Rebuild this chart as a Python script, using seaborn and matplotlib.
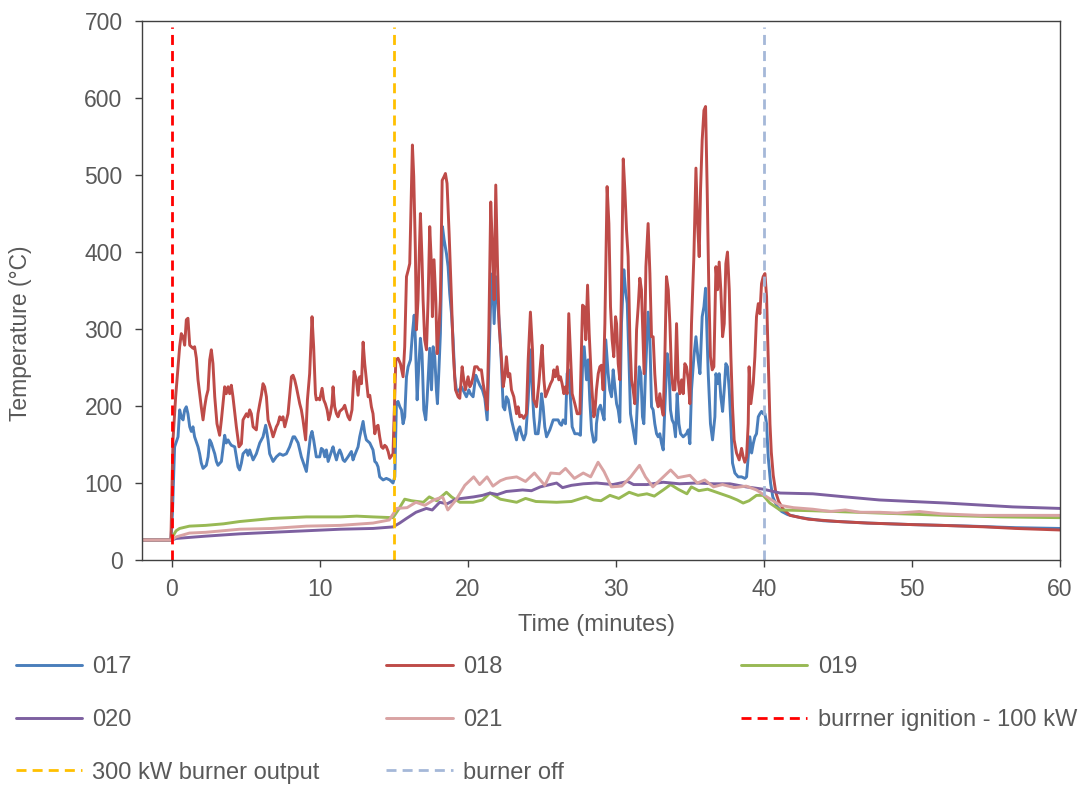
import numpy as np
import pandas as pd
import matplotlib
matplotlib.use('Agg')
import matplotlib.pyplot as plt
import seaborn as sns

# ── Data ────────────────────────────────────────────────────
t_017 = [-2, -0.05, 0.05, 0.2, 0.43, 0.54, 0.65, 0.77, 0.88, 0.99, 1.1, 1.22, 1.33, 1.44, 1.55, 1.78, 1.89,
         2.0, 2.12, 2.23, 2.34, 2.46, 2.57, 2.68, 2.79, 2.91, 3.02, 3.13, 3.36, 3.58, 3.69, 3.81, 3.92, 4.03,
         4.26, 4.37, 4.48, 4.59, 4.71, 4.82, 5.05, 5.16, 5.27, 5.5, 5.72, 5.95, 6.17, 6.35, 6.51, 6.62, 6.85,
         7.07, 7.3, 7.52, 7.75, 7.97, 8.2, 8.31, 8.54, 8.76, 8.99, 9.1, 9.21, 9.37, 9.48, 9.59, 9.77, 10.0,
         10.11, 10.23, 10.34, 10.45, 10.57, 10.79, 10.9, 11.01, 11.13, 11.24, 11.35, 11.46, 11.58, 11.69,
         11.91, 12.14, 12.25, 12.36, 12.59, 12.7, 12.93, 13.04, 13.15, 13.38, 13.6, 13.72, 13.83, 13.94,
         14.05, 14.28, 14.5, 14.73, 14.95, 15.07, 15.18, 15.29, 15.41, 15.52, 15.63, 15.74, 15.86, 15.97,
         16.13, 16.26, 16.38, 16.46, 16.58, 16.69, 16.8, 16.91, 17.03, 17.16, 17.25, 17.43, 17.55, 17.66,
         17.77, 17.88, 17.95, 18.06, 18.15, 18.29, 18.4, 18.56, 18.67, 18.78, 18.9, 19.01, 19.12, 19.23,
         19.35, 19.57, 19.8, 19.91, 20.07, 20.18, 20.36, 20.54, 20.66, 20.81, 20.99, 21.15, 21.31, 21.42,
         21.55, 21.67, 21.78, 21.89, 22.01, 22.16, 22.28, 22.39, 22.5, 22.61, 22.73, 22.84, 22.95, 23.11,
         23.29, 23.4, 23.51, 23.63, 23.78, 23.92, 24.08, 24.23, 24.37, 24.46, 24.57, 24.75, 24.86, 24.98,
         25.09, 25.2, 25.32, 25.54, 25.77, 25.92, 26.1, 26.22, 26.33, 26.44, 26.6, 26.71, 26.82, 26.94,
         27.05, 27.23, 27.45, 27.61, 27.75, 27.86, 28.02, 28.13, 28.24, 28.36, 28.51, 28.65, 28.69, 28.81,
         28.96, 29.1, 29.21, 29.32, 29.48, 29.59, 29.71, 29.82, 29.93, 30.05, 30.16, 30.27, 30.38, 30.54,
         30.65, 30.77, 30.88, 30.99, 31.17, 31.33, 31.44, 31.58, 31.69, 31.8, 31.89, 32.0, 32.18, 32.3,
         32.41, 32.52, 32.63, 32.75, 32.86, 32.97, 33.09, 33.2, 33.31, 33.47, 33.58, 33.69, 33.8, 33.92,
         34.03, 34.14, 34.26, 34.37, 34.55, 34.77, 34.89, 35.0, 35.11, 35.27, 35.41, 35.56, 35.68, 35.83,
         35.95, 36.06, 36.12, 36.24, 36.39, 36.53, 36.69, 36.76, 36.87, 36.98, 37.09, 37.21, 37.32, 37.43,
         37.54, 37.66, 37.77, 37.88, 38.04, 38.26, 38.49, 38.72, 38.83, 38.94, 39.05, 39.17, 39.28, 39.39,
         39.5, 39.62, 39.73, 39.84, 39.95, 40.07, 40.18, 40.29, 40.45, 40.6, 40.9, 41.2, 41.6, 42.5, 44,
         47, 50, 54, 57, 60]
v_017 = [26, 26, 60, 147, 160, 195, 186, 182, 195, 199, 190, 173, 167, 173, 160, 147, 138,
         126, 119, 121, 123, 134, 156, 152, 145, 138, 128, 123, 128, 162, 152, 156, 152, 149,
         147, 134, 121, 117, 126, 138, 143, 136, 143, 130, 138, 152, 160, 175, 156, 138, 128,
         134, 138, 136, 138, 147, 160, 160, 152, 134, 121, 115, 134, 160, 167, 156, 134, 134,
         145, 143, 134, 143, 128, 141, 147, 138, 130, 138, 143, 138, 130, 128,
         134, 141, 130, 136, 147, 160, 180, 165, 156, 152, 143, 128, 126, 121,
         108, 104, 106, 104, 100, 108, 204, 206, 199, 195, 177, 186, 238, 251,
         260, 294, 318, 286, 208, 251, 288, 268, 195, 182, 208, 275, 221, 277,
         264, 221, 203, 251, 294, 433, 416, 398, 381, 346, 320, 286, 238, 221,
         219, 225, 216, 212, 221, 216, 212, 240, 234, 227, 221, 210, 182, 251,
         338, 372, 307, 368, 338, 299, 251, 199, 195, 212, 208, 195, 182, 169,
         156, 169, 173, 164, 156, 164, 208, 273, 216, 186, 164, 164, 182, 216,
         199, 173, 160, 169, 182, 182, 182, 177, 175, 182, 177, 242, 247, 208,
         173, 164, 164, 162, 251, 277, 234, 260, 208, 169, 153, 156, 177, 195,
         201, 190, 182, 286, 242, 221, 212, 247, 225, 203, 195, 179, 307, 377,
         351, 333, 264, 190, 169, 151, 199, 251, 242, 186, 177, 242, 322, 286,
         199, 195, 177, 164, 160, 164, 151, 143, 199, 268, 251, 195, 182, 177,
         160, 216, 177, 164, 160, 164, 169, 151, 221, 264, 290, 260, 242, 316,
         329, 353, 316, 242, 177, 156, 186, 242, 229, 242, 212, 193, 221, 255,
         251, 221, 177, 126, 113, 108, 108, 106, 108, 134, 160, 139, 151, 160,
         164, 186, 190, 193, 190, 190, 177, 134, 100, 82, 69, 63, 59, 55, 51,
         48, 46, 44, 42, 41]

t_018 = [-2, -0.05, 0.09, 0.27, 0.54, 0.65, 0.77, 0.88, 0.99, 1.1, 1.22, 1.44, 1.55, 1.67, 1.78, 2.0,
         2.12, 2.23, 2.34, 2.46, 2.57, 2.68, 2.79, 2.91, 3.06, 3.24, 3.36, 3.58, 3.69, 3.81, 3.92, 4.03,
         4.14, 4.37, 4.55, 4.71, 4.82, 5.05, 5.16, 5.27, 5.38, 5.5, 5.72, 5.83, 5.95, 6.06, 6.17, 6.28,
         6.4, 6.51, 6.73, 6.85, 7.07, 7.18, 7.3, 7.41, 7.52, 7.64, 7.86, 8.09, 8.2, 8.31, 8.42, 8.65, 8.76,
         8.87, 9.05, 9.17, 9.32, 9.48, 9.59, 9.71, 9.77, 9.89, 10.0, 10.16, 10.27, 10.38, 10.5, 10.61,
         10.72, 10.83, 10.9, 11.01, 11.13, 11.24, 11.35, 11.46, 11.58, 11.69, 11.8, 11.91, 12.03, 12.18,
         12.32, 12.48, 12.59, 12.7, 12.82, 12.93, 13.04, 13.15, 13.27, 13.38, 13.49, 13.6, 13.72, 13.83,
         13.94, 14.05, 14.17, 14.28, 14.39, 14.5, 14.62, 14.73, 14.95, 15.14, 15.29, 15.45, 15.63, 15.74,
         15.86, 15.97, 16.08, 16.26, 16.35, 16.46, 16.53, 16.64, 16.8, 16.91, 16.98, 17.09, 17.21, 17.32,
         17.43, 17.55, 17.61, 17.72, 17.84, 17.93, 18.06, 18.15, 18.27, 18.4, 18.49, 18.6, 18.74, 18.9,
         19.01, 19.17, 19.35, 19.46, 19.62, 19.73, 19.84, 20.02, 20.14, 20.25, 20.36, 20.47, 20.63, 20.77,
         20.92, 21.04, 21.19, 21.31, 21.42, 21.55, 21.67, 21.78, 21.89, 22.01, 22.12, 22.28, 22.39, 22.5,
         22.61, 22.73, 22.84, 22.95, 23.11, 23.29, 23.4, 23.51, 23.63, 23.78, 23.96, 24.08, 24.23, 24.37,
         24.46, 24.64, 24.8, 24.91, 25.02, 25.14, 25.25, 25.43, 25.59, 25.72, 25.81, 25.92, 26.04, 26.15,
         26.26, 26.37, 26.49, 26.6, 26.71, 26.82, 26.94, 27.05, 27.23, 27.39, 27.57, 27.75, 27.86, 27.97,
         28.09, 28.2, 28.36, 28.51, 28.58, 28.69, 28.81, 28.92, 29.03, 29.14, 29.26, 29.41, 29.53, 29.64,
         29.75, 29.86, 29.98, 30.05, 30.16, 30.27, 30.38, 30.5, 30.61, 30.72, 30.83, 30.95, 31.06, 31.17,
         31.28, 31.4, 31.51, 31.62, 31.73, 31.8, 31.91, 32.03, 32.18, 32.3, 32.41, 32.52, 32.63, 32.75,
         32.86, 32.97, 33.09, 33.2, 33.31, 33.42, 33.54, 33.65, 33.76, 33.87, 33.99, 34.1, 34.21, 34.32,
         34.44, 34.55, 34.66, 34.77, 34.89, 35.0, 35.11, 35.27, 35.41, 35.52, 35.63, 35.72, 35.83, 35.95,
         36.06, 36.17, 36.28, 36.39, 36.51, 36.62, 36.76, 36.87, 36.98, 37.09, 37.21, 37.32, 37.43, 37.54,
         37.66, 37.77, 37.88, 37.99, 38.15, 38.33, 38.49, 38.6, 38.71, 38.83, 38.94, 39.0, 39.12, 39.28,
         39.39, 39.5, 39.62, 39.73, 39.84, 39.95, 40.07, 40.18, 40.29, 40.41, 40.5, 40.63, 40.8, 41.0,
         41.3, 41.76, 42, 43, 45, 47, 50, 52, 55, 57, 60]
v_018 = [26, 26, 156, 212, 277, 294, 290, 279, 312, 314, 279, 275, 277, 262, 234, 199,
         182, 199, 212, 221, 260, 273, 255, 212, 177, 162, 182, 225, 216, 225, 216, 227,
         212, 173, 147, 151, 182, 190, 186, 195, 190, 173, 169, 190, 203, 214, 229, 225,
         212, 182, 169, 160, 173, 177, 186, 182, 186, 173, 190, 238, 240, 234, 225, 203, 195,
         182, 156, 208, 242, 316, 277, 216, 208, 210, 208, 223, 208, 203, 195, 182,
         190, 203, 225, 199, 190, 186, 193, 195, 197, 201, 193, 186, 182, 195,
         245, 234, 214, 238, 229, 283, 255, 234, 212, 214, 199, 190, 164, 173,
         175, 160, 147, 145, 149, 147, 141, 132, 138, 260, 262, 255, 238, 277,
         368, 376, 385, 539, 498, 403, 299, 338, 450, 390, 338, 286, 273, 338,
         433, 381, 316, 390, 338, 268, 303, 338, 493, 498, 502, 489, 424, 338,
         273, 221, 212, 210, 251, 234, 221, 238, 225, 229, 238, 251, 251, 247,
         247, 229, 212, 195, 294, 465, 403, 338, 487, 381, 303, 260, 225, 238,
         264, 238, 242, 221, 212, 190, 199, 186, 188, 184, 190, 260, 322, 273,
         208, 199, 229, 255, 279, 234, 212, 221, 229, 234, 247, 238, 251, 234,
         238, 229, 216, 225, 216, 320, 264, 216, 203, 190, 190, 331, 329, 286,
         357, 294, 229, 186, 190, 221, 242, 251, 253, 221, 307, 485, 437, 329,
         286, 264, 316, 307, 255, 234, 351, 521, 480, 429, 394, 286, 234, 221,
         203, 299, 329, 366, 351, 307, 242, 381, 437, 372, 290, 290, 242, 208,
         199, 216, 199, 188, 264, 368, 351, 307, 242, 221, 221, 307, 234, 216,
         234, 216, 255, 251, 234, 203, 307, 394, 509, 437, 394, 480, 545, 584,
         589, 480, 351, 264, 247, 251, 381, 351, 387, 351, 290, 307, 385, 400,
         351, 264, 199, 156, 139, 130, 145, 134, 127, 134, 177, 251, 203, 229,
         264, 316, 333, 320, 359, 368, 372, 342, 264, 177, 140, 110, 88, 76,
         66, 58, 57, 53, 50, 48, 46, 45, 43, 41, 39]

t_019 = [-2, -0.05, 0.05, 0.3, 0.54, 1.2, 2.3, 3.5, 4.6, 5.7, 6.8, 8.0, 9.1, 10.2, 11.4, 12.5, 13.6, 14.95,
         15.3, 15.74, 16.2, 17.0, 17.4, 17.9, 18.56, 18.9, 19.46, 20.36, 21.0, 21.5, 22.2, 23.3, 23.9,
         24.6, 26.0, 27.0, 28.0, 28.5, 29.0, 29.6, 30.2, 30.9, 31.5, 32.1, 32.6, 33.2, 33.7, 34.2, 34.8,
         35.1, 35.6, 36.2, 36.8, 37.7, 38.2, 38.6, 39.0, 39.5, 39.95, 40.4, 41.08, 43.3, 47.8, 52.3, 56, 60]
v_019 = [26, 26, 30, 38, 41, 44, 45, 47, 50, 52, 54, 55, 56, 56, 56, 57, 56, 55,
         65, 79, 77, 75, 82, 77, 88, 82, 75, 75, 78, 87, 79, 75, 80,
         76, 75, 76, 82, 78, 77, 84, 80, 88, 84, 86, 83, 91, 98, 92, 86,
         95, 90, 92, 88, 82, 78, 74, 77, 84, 84, 74, 65, 64, 61, 58, 56, 55]

t_020 = [-2, 0, 0.3, 2.3, 4.6, 6.8, 9.1, 11.4, 13.6, 14.95, 15.4, 15.86, 16.5, 17.2, 17.6, 18.1, 18.6,
         19.2, 20.4, 21.0, 21.5, 22.0, 22.6, 23.7, 24.3, 24.9, 26.0, 26.4, 27.0, 27.8, 28.7, 29.8, 30.8,
         31.2, 32.1, 33.2, 34.3, 35.4, 36.6, 37.7, 38.8, 39.95, 41.1, 43.3, 45.5, 47.8, 50, 52.3, 56.8, 60]
v_020 = [26, 26, 28, 31, 34, 36, 38, 40, 41, 43, 48, 54, 62, 67, 65, 75, 73,
         79, 82, 84, 87, 85, 89, 91, 90, 95, 100, 94, 97, 99, 100, 98, 102,
         98, 98, 101, 99, 100, 99, 99, 95, 92, 87, 86, 82, 78, 76, 74, 69, 67]

t_021 = [-2, 0, 0.3, 1.2, 2.3, 4.6, 6.8, 9.1, 11.4, 13.6, 14.7, 15.2, 15.9, 16.5, 17.1, 17.7, 18.3, 18.65,
         19.2, 19.8, 20.4, 20.8, 21.3, 21.7, 22.2, 22.6, 23.3, 23.9, 24.5, 25.2, 25.6, 26.2, 26.6, 27.2,
         27.8, 28.3, 28.8, 29.2, 29.7, 30.4, 31.0, 31.6, 32.0, 32.5, 33.1, 33.7, 34.2, 35.0, 35.5, 36.0,
         36.6, 37.2, 38.0, 38.8, 39.5, 40.2, 41.1, 42.0, 43.3, 44.5, 45.5, 46.5, 47.8, 49, 50.5, 52, 54.6,
         57, 60]
v_021 = [26, 26, 30, 35, 36, 40, 41, 44, 45, 48, 52, 67, 68, 75, 71, 78, 82, 65,
         78, 97, 108, 98, 108, 96, 103, 106, 108, 102, 113, 97, 113, 112, 119, 106,
         113, 108, 127, 115, 95, 96, 108, 123, 108, 95, 106, 117, 107, 110, 100, 104,
         95, 98, 94, 96, 91, 82, 71, 68, 66, 63, 65, 62, 62, 61, 63, 60, 58,
         58, 58]

events = [0, 15, 40]
event_labels = ['burrner ignition - 100 kW', '300 kW burner output', 'burner off']

series = [('017', t_017, v_017, '#4A7EBB'),
          ('018', t_018, v_018, '#BE4B48'),
          ('019', t_019, v_019, '#98B954'),
          ('020', t_020, v_020, '#7D60A0'),
          ('021', t_021, v_021, '#D9A3A3')]
event_colors = ['#FF0000', '#FFC000', '#A5B8D8']

# ── Plot ───────────────────────────────────────────────────
sns.set_style('white')
plt.rcParams['font.family'] = ['Liberation Sans', 'DejaVu Sans']
txt = '#595959'
fs = 16.5
fs_leg = 17

fig = plt.figure(figsize=(10.81, 7.85), dpi=100)
ax = fig.add_axes([0.1314, 0.2866, 0.8492, 0.6866])

for name, t, v, c in series:
    sns.lineplot(x=t, y=v, ax=ax, color=c, linewidth=2.1, label=name,
                 estimator=None, sort=False)

for x, lab, c in zip(events, event_labels, event_colors):
    ax.axvline(x, ymin=0, ymax=0.989, color=c, linestyle=(0, (3.6, 2.2)), linewidth=2.0, label=lab)

ax.set_xlim(-2, 60)
ax.set_ylim(0, 700)
ax.set_xticks(range(0, 61, 10))
ax.set_yticks(range(0, 701, 100))
ax.tick_params(axis='both', direction='out', length=5, width=1, color='#404040',
               labelsize=fs, labelcolor=txt, bottom=True, left=True)
ax.tick_params(axis='x', pad=8)
ax.tick_params(axis='y', pad=9)
for s in ax.spines.values():
    s.set_color('#404040')
    s.set_linewidth(1.0)
ax.set_xlabel('Time (minutes)', fontsize=fs_leg, color=txt)
ax.set_ylabel('Temperature (°C)', fontsize=fs, color=txt)
ax.xaxis.set_label_coords(0.495, -0.1)
ax.yaxis.set_label_coords(-0.12, 0.421)

handles, labels = ax.get_legend_handles_labels()
ax.get_legend().remove()
lookup = dict(zip(labels, handles))
columns = [['017', '020', '300 kW burner output'],
           ['018', '021', 'burner off'],
           ['019', 'burrner ignition - 100 kW']]
col_x = [0.0145, 0.3575, 0.6855]
for cx, col in zip(col_x, columns):
    leg = fig.legend([lookup[k] for k in col], col, loc='upper left', bbox_to_anchor=(cx, 0.164),
                     frameon=False, fontsize=fs_leg, handlelength=2.8, handletextpad=0.45,
                     labelspacing=1.3, borderaxespad=0, borderpad=0)
    for tx in leg.get_texts():
        tx.set_color(txt)

fig.savefig('out.png', dpi=100)
